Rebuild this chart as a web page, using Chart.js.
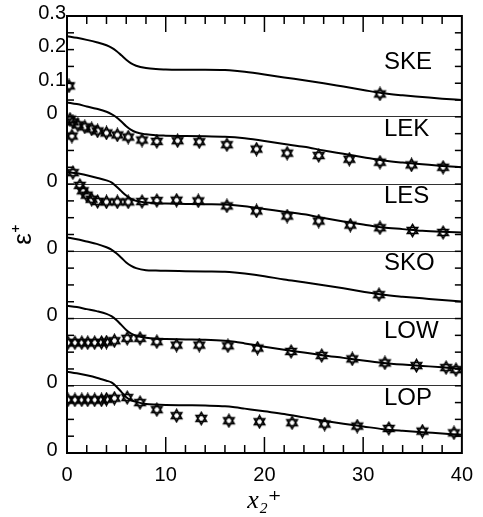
<!DOCTYPE html>
<html>
<head>
<meta charset="utf-8">
<script src="https://cdn.jsdelivr.net/npm/chart.js@4.4.0/dist/chart.umd.min.js"></script>
<style>
    html, body { margin: 0; padding: 0; background: #fff; }
    #wrap { width: 483px; height: 517px; }
</style>
</head>
<body>
<div id="wrap"><canvas id="epsChart"></canvas></div>
<script>
// models and the vertical shift of each curve
const models = ['SKE', 'LEK', 'LES', 'SKO', 'LOW', 'LOP'];
const offsets = [0, -0.2, -0.4, -0.6, -0.8, -1.0];

// axis ticks
const xTickValues = [0, 10, 20, 30, 40];
const yTickValues = [0.3, 0.2, 0.1, 0, -0.2, -0.4, -0.6, -0.8, -1.0];
const yTickLabels = ['0.3', '0.2', '0.1', '0', '0', '0', '0', '0', '0'];
const zeroLines = [0, -0.2, -0.4, -0.6, -0.8];

// model curves (eps+ before shifting)
const lineX = [0, 1, 2, 3, 4, 4.5, 5, 5.5, 6, 6.5, 7, 8, 9, 10, 12, 14, 16, 17, 18, 20, 22, 24, 26, 28, 30, 32, 34, 36, 38, 40];
const skeLine = [0.240, 0.235, 0.229, 0.222, 0.213, 0.206, 0.196, 0.183, 0.170, 0.159, 0.152, 0.145, 0.142, 0.141, 0.140, 0.140, 0.139, 0.137, 0.134, 0.126, 0.117, 0.109, 0.100, 0.090, 0.080, 0.070, 0.064, 0.059, 0.054, 0.050];
const lekLine = [0.243, 0.238, 0.231, 0.224, 0.215, 0.208, 0.199, 0.186, 0.172, 0.161, 0.154, 0.148, 0.145, 0.144, 0.143, 0.142, 0.141, 0.139, 0.136, 0.128, 0.119, 0.111, 0.100, 0.090, 0.080, 0.070, 0.064, 0.059, 0.054, 0.050];
const lesLine = [0.236, 0.232, 0.226, 0.219, 0.211, 0.205, 0.193, 0.179, 0.166, 0.156, 0.150, 0.145, 0.143, 0.142, 0.141, 0.140, 0.139, 0.137, 0.134, 0.126, 0.118, 0.110, 0.099, 0.089, 0.080, 0.071, 0.066, 0.061, 0.058, 0.056];
const skoLine = [0.241, 0.236, 0.229, 0.222, 0.212, 0.205, 0.194, 0.181, 0.167, 0.157, 0.150, 0.144, 0.143, 0.142, 0.141, 0.140, 0.139, 0.137, 0.134, 0.126, 0.116, 0.108, 0.099, 0.090, 0.080, 0.071, 0.065, 0.060, 0.055, 0.051];
const lowLine = [0.238, 0.234, 0.228, 0.222, 0.214, 0.207, 0.196, 0.181, 0.166, 0.155, 0.149, 0.143, 0.140, 0.139, 0.138, 0.137, 0.134, 0.131, 0.126, 0.116, 0.107, 0.099, 0.090, 0.083, 0.075, 0.068, 0.063, 0.059, 0.055, 0.050];
const lopLine = [0.242, 0.237, 0.231, 0.224, 0.215, 0.210, 0.198, 0.182, 0.166, 0.157, 0.152, 0.146, 0.144, 0.143, 0.142, 0.141, 0.139, 0.136, 0.132, 0.124, 0.116, 0.106, 0.096, 0.087, 0.079, 0.071, 0.066, 0.062, 0.058, 0.054];

// DNS symbols
const skeStarX = [0.2, 31.7];
const skeStarY = [0.092, 0.068];
const lekStarX = [0.3, 0.5, 0.6, 1.1, 1.8, 2.5, 3.1, 4.0, 5.1, 6.2, 7.6, 9.1, 11.2, 13.4, 16.2, 19.2, 22.3, 25.5, 28.6, 31.7, 34.9, 38.1];
const lekStarY = [0.193, 0.143, 0.185, 0.176, 0.170, 0.164, 0.158, 0.152, 0.146, 0.140, 0.131, 0.127, 0.129, 0.126, 0.117, 0.104, 0.092, 0.085, 0.074, 0.065, 0.057, 0.050];
const lesStarX = [0.6, 1.3, 1.6, 2.0, 2.5, 3.1, 4.0, 5.1, 6.2, 7.6, 9.1, 11.1, 13.3, 16.2, 19.2, 22.3, 25.5, 28.7, 31.7, 35.0, 38.1];
const lesStarY = [0.234, 0.196, 0.180, 0.167, 0.155, 0.148, 0.147, 0.147, 0.147, 0.148, 0.151, 0.152, 0.150, 0.135, 0.120, 0.105, 0.090, 0.078, 0.070, 0.062, 0.056];
const skoStarX = [31.6];
const skoStarY = [0.071];
const lowStarX = [0.1, 0.8, 1.5, 2.1, 2.8, 3.5, 4.0, 4.8, 6.1, 7.4, 9.1, 11.1, 13.4, 16.3, 19.3, 22.7, 25.8, 28.9, 32.2, 35.4, 38.4, 39.4];
const lowStarY = [0.128, 0.128, 0.128, 0.128, 0.128, 0.129, 0.130, 0.134, 0.141, 0.141, 0.131, 0.121, 0.121, 0.119, 0.112, 0.102, 0.090, 0.080, 0.068, 0.060, 0.054, 0.048];
const lopStarX = [0.1, 0.8, 1.5, 2.1, 2.8, 3.5, 4.0, 4.8, 6.1, 7.4, 9.1, 11.1, 13.6, 16.4, 19.5, 22.8, 26.1, 29.4, 32.6, 36.0, 39.2];
const lopStarY = [0.158, 0.158, 0.158, 0.158, 0.158, 0.158, 0.160, 0.163, 0.165, 0.150, 0.129, 0.111, 0.103, 0.096, 0.093, 0.090, 0.086, 0.080, 0.073, 0.065, 0.060];

const lines = [skeLine, lekLine, lesLine, skoLine, lowLine, lopLine];
const starsX = [skeStarX, lekStarX, lesStarX, skoStarX, lowStarX, lopStarX];
const starsY = [skeStarY, lekStarY, lesStarY, skoStarY, lowStarY, lopStarY];

// where the model names go (data units, relative to each zero line)
const nameX = 32.1;
const nameY = 0.163;

const sansFont = '"Liberation Sans", Arial, sans-serif';

// hollow six pointed star used as point style
function makeStar(r) {
    const c = document.createElement('canvas');
    const s = Math.ceil(r * 2 + 3);
    c.width = s;
    c.height = s;
    const g = c.getContext('2d');
    g.strokeStyle = '#000';
    g.lineWidth = 1.6;
    [-Math.PI / 2, Math.PI / 2].forEach(a0 => {
        g.beginPath();
        for (let k = 0; k < 3; k++) {
            const a = a0 + k * 2 * Math.PI / 3;
            const px = s / 2 + r * Math.cos(a);
            const py = s / 2 + r * Math.sin(a);
            if (k === 0) g.moveTo(px, py); else g.lineTo(px, py);
        }
        g.closePath();
        g.stroke();
    });
    return c;
}
const starImg = makeStar(6);

const datasets = [];
models.forEach((name, i) => {
    datasets.push({
        label: name,
        data: lineX.map((x, j) => ({ x: x, y: lines[i][j] + offsets[i] })),
        showLine: true,
        borderColor: '#000',
        borderWidth: 2,
        pointRadius: 0,
        cubicInterpolationMode: 'monotone',
    });
    datasets.push({
        label: name + ' DNS',
        data: starsX[i].map((x, j) => ({ x: x, y: starsY[i][j] + offsets[i] })),
        showLine: false,
        pointStyle: starImg,
    });
});

// inward ticks on all four sides, the frame and the model names
const frameTicks = {
    id: 'frameTicks',
    afterDatasetsDraw(chart) {
        const { ctx, chartArea: a, scales: { x, y } } = chart;
        const seg = (x1, y1, x2, y2) => {
            ctx.beginPath();
            ctx.moveTo(x1, y1);
            ctx.lineTo(x2, y2);
            ctx.stroke();
        };
        ctx.save();
        ctx.strokeStyle = '#000';
        ctx.lineWidth = 1.5;
        for (let v = 2; v < 40; v += 2) {
            const px = x.getPixelForValue(v);
            const len = v % 10 === 0 ? 16 : 8;
            seg(px, a.bottom, px, a.bottom - len);
            seg(px, a.top, px, a.top + len);
        }
        for (let k = 1; k < 26; k++) {
            const py = y.getPixelForValue(-1 + k * 0.05);
            seg(a.left, py, a.left + 7, py);
            seg(a.right, py, a.right - 7, py);
        }
        ctx.lineWidth = 2;
        ctx.strokeRect(a.left, a.top, a.right - a.left, a.bottom - a.top);

        ctx.font = '24px ' + sansFont;
        ctx.fillStyle = '#000';
        ctx.textAlign = 'left';
        ctx.textBaseline = 'middle';
        models.forEach((name, i) => {
            ctx.fillText(name, x.getPixelForValue(nameX), y.getPixelForValue(offsets[i] + nameY));
        });
        ctx.restore();
    }
};

const ctx = document.getElementById('epsChart').getContext('2d');

new Chart(ctx, {
    type: 'scatter',
    data: { datasets: datasets },
    options: {
        responsive: true,
        maintainAspectRatio: false,
        animation: false,
        layout: { padding: { top: 16, right: 20, left: 0, bottom: 0 } },
        plugins: {
            legend: { display: false },
            tooltip: { enabled: false },
        },
        scales: {
            x: {
                type: 'linear',
                min: 0,
                max: 40,
                afterBuildTicks: (s) => { s.ticks = xTickValues.map(v => ({ value: v })); },
                afterFit: (s) => { s.height = 64; },
                grid: { display: false, drawTicks: false },
                border: { display: false },
                ticks: {
                    color: '#000',
                    font: { family: sansFont, size: 20 },
                    padding: 10,
                    maxRotation: 0,
                    autoSkip: false,
                },
                title: {
                    display: true,
                    text: 'x₂⁺',
                    color: '#000',
                    font: { family: '"Liberation Serif", "DejaVu Serif", serif', size: 26, style: 'italic' },
                    padding: { top: 0, bottom: 0 },
                },
            },
            y: {
                type: 'linear',
                min: -1.0,
                max: 0.3,
                afterBuildTicks: (s) => { s.ticks = yTickValues.map(v => ({ value: v })); },
                afterFit: (s) => { s.width = 67; },
                grid: {
                    drawTicks: false,
                    lineWidth: 1,
                    color: (c) => c.tick && zeroLines.includes(c.tick.value) ? '#333' : 'rgba(0,0,0,0)',
                },
                border: { display: false },
                ticks: {
                    color: '#000',
                    font: { family: sansFont, size: 20 },
                    crossAlign: 'center',
                    padding: 1,
                    labelOffset: -3,
                    autoSkip: false,
                    callback: (value) => yTickLabels[yTickValues.indexOf(value)],
                },
                title: {
                    display: true,
                    text: 'ε⁺',
                    color: '#000',
                    font: { family: sansFont, size: 26 },
                    padding: { top: 8, bottom: 0 },
                },
            }
        },
    },
    plugins: [frameTicks]
});
</script>
</body>
</html>
